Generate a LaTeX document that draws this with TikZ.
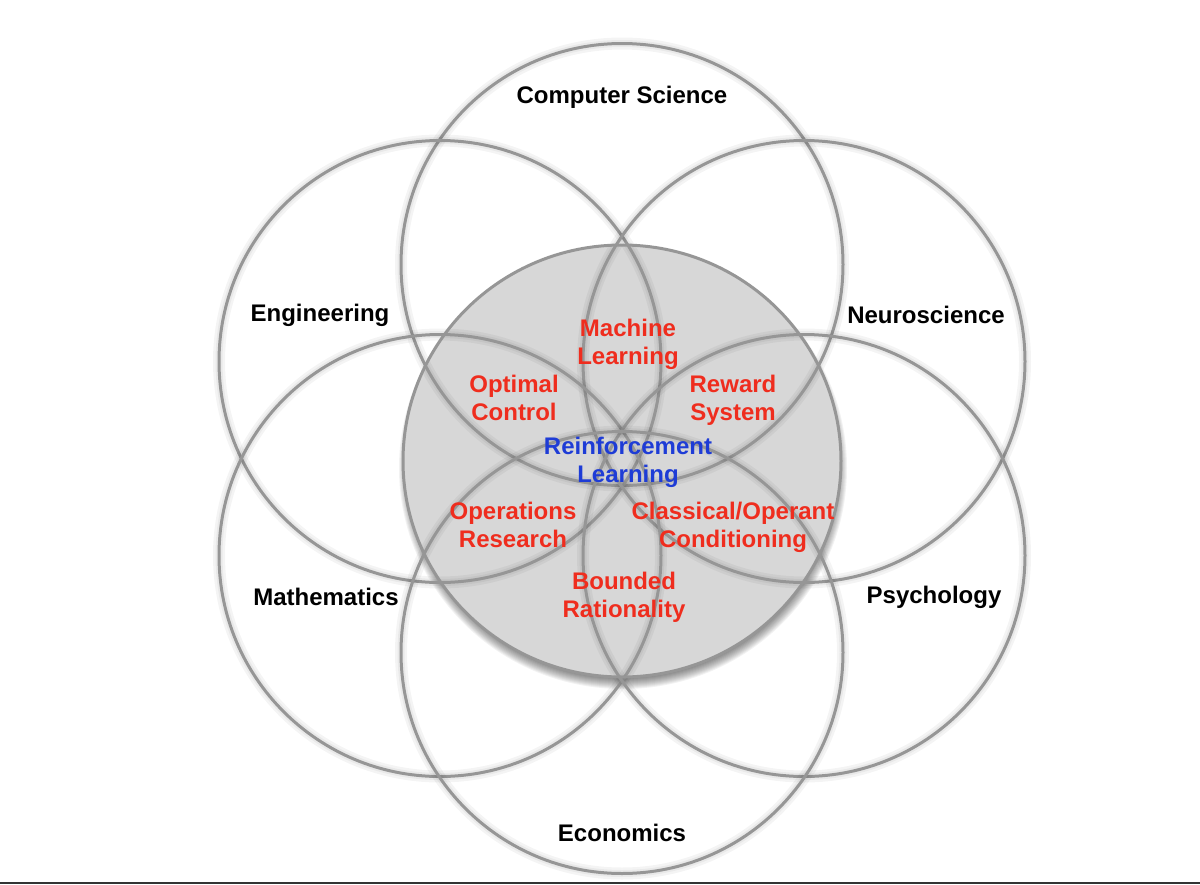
\documentclass[tikz,border=0pt]{standalone}
\usepackage{fontspec}
\setmainfont{Liberation Sans}
\usepackage{xcolor}
\usetikzlibrary{positioning}
\definecolor{ringgray}{HTML}{969696}
\definecolor{corefill}{HTML}{D7D7D7}
\definecolor{topicred}{HTML}{EF2D1E}
\definecolor{rlblue}{HTML}{1E3CD6}
\definecolor{framegray}{HTML}{333333}

\begin{document}
\begin{tikzpicture}[
  x=0.5pt, y=-0.5pt,
  field/.style={
    draw=ringgray,
    line width=1.5pt
  },
  halo/.style={
    draw=black,
    opacity=0.045,
    line width=3.5pt
  },
  discipline/.style={
    font=\bfseries\fontsize{12}{14}\selectfont,
    text=black,
    align=center,
    inner sep=0pt
  },
  topic/.style={
    discipline,
    text=topicred
  }
]
\useasboundingbox (0,0) rectangle (1200,884);

\coordinate (core) at (622,461);
\coordinate (cs) at (622,264.5);
\coordinate (eng) at (440,361.5);
\coordinate (neuro) at (804,361.5);
\coordinate (math) at (440,555.5);
\coordinate (psych) at (804,555.5);
\coordinate (econ) at (622,652.5);

\foreach \k in {1,...,12}
  \fill[black, opacity=0.05] ([xshift=0.5pt, yshift=-3.5pt]core) ellipse [x radius=212+\k, y radius=209+\k];
\fill[corefill] (core) ellipse [x radius=219, y radius=216];

\foreach \c in {cs,eng,neuro,math,psych,econ} {
  \draw[halo, line width=6pt] (\c) circle [radius=221];
  \draw[halo] (\c) circle [radius=221];
  \draw[field] (\c) circle [radius=221];
}
\draw[field] (core) ellipse [x radius=219, y radius=216];

\node[discipline] (compsci) at (622,97) {Computer Science};
\node[discipline] (engineering) at (320,315) {Engineering};
\node[discipline] (neuroscience) at (926,315) {Neuroscience};
\node[discipline] (mathematics) at (326,597) {Mathematics};
\node[discipline] (psychology) at (934,597) {Psychology};
\node[discipline] (economics) at (622,833) {Economics};

\node[topic] (machine) at (628,344) {Machine\\Learning};
\node[topic] (optimal) at (514,398) {Optimal\\Control};
\node[topic] (reward) at (733,400) {Reward\\System};
\node[discipline, text=rlblue] (reinforce) at (628,462) {Reinforcement\\Learning};
\node[topic] (operations) at (513,525) {Operations\\Research};
\node[topic] (conditioning) at (733,527) {Classical/Operant\\Conditioning};
\node[topic] (bounded) at (624,597) {Bounded\\Rationality};

\draw[framegray, line width=1pt] (0,883) -- (1200,883);
\end{tikzpicture}
\end{document}
